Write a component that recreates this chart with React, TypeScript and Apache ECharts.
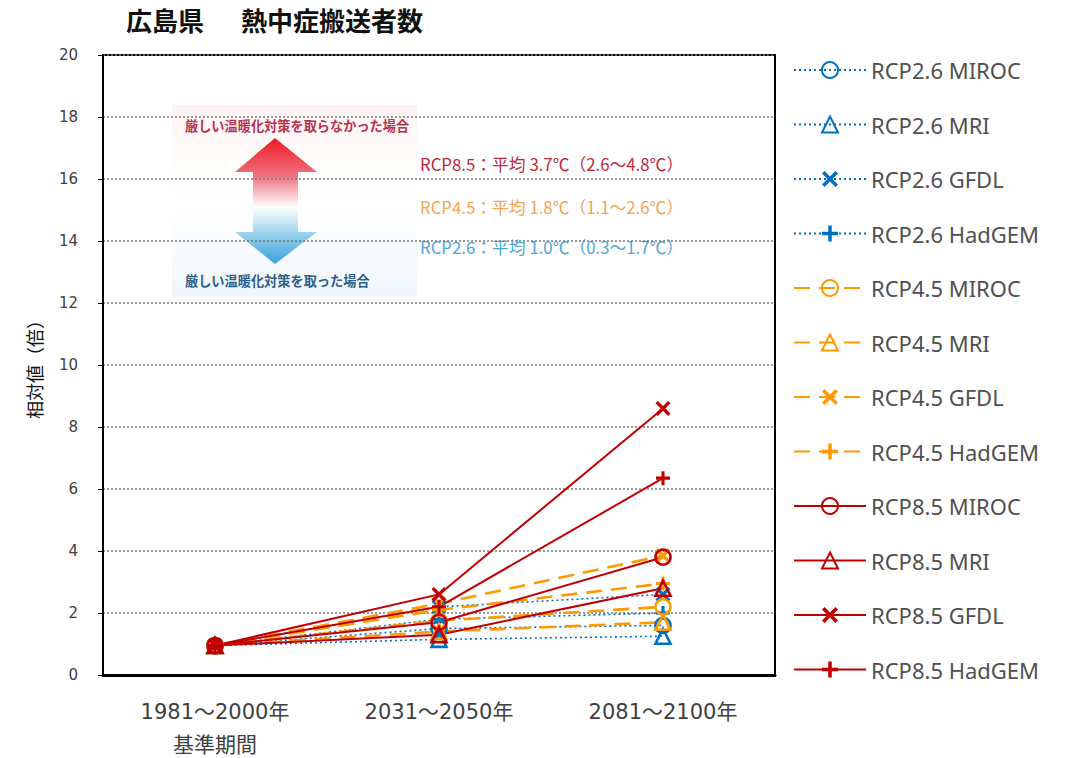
import React, { useEffect, useRef } from "react";
import * as echarts from "echarts";

const categories = ["1981～2000年\n基準期間", "2031～2050年", "2081～2100年"];
const yTicks = [0, 20, 2];

const rcp26Miroc = [0.95, 1.5, 1.6];
const rcp26Mri = [0.95, 1.15, 1.25];
const rcp26Gfdl = [0.95, 2.2, 2.6];
const rcp26Hadgem = [0.95, 1.8, 2.0];
const rcp45Miroc = [0.95, 1.75, 2.2];
const rcp45Mri = [0.95, 1.4, 1.7];
const rcp45Gfdl = [0.95, 2.3, 3.85];
const rcp45Hadgem = [0.95, 2.1, 2.95];
const rcp85Miroc = [0.95, 1.7, 3.8];
const rcp85Mri = [0.95, 1.3, 2.8];
const rcp85Gfdl = [0.95, 2.6, 8.6];
const rcp85Hadgem = [0.95, 2.2, 6.35];

const seriesNames = [
  "RCP2.6 MIROC", "RCP2.6 MRI", "RCP2.6 GFDL", "RCP2.6 HadGEM",
  "RCP4.5 MIROC", "RCP4.5 MRI", "RCP4.5 GFDL", "RCP4.5 HadGEM",
  "RCP8.5 MIROC", "RCP8.5 MRI", "RCP8.5 GFDL", "RCP8.5 HadGEM",
];
const seriesValues = [
  rcp26Miroc, rcp26Mri, rcp26Gfdl, rcp26Hadgem,
  rcp45Miroc, rcp45Mri, rcp45Gfdl, rcp45Hadgem,
  rcp85Miroc, rcp85Mri, rcp85Gfdl, rcp85Hadgem,
];

const insetTitles = ["厳しい温暖化対策を取らなかった場合", "厳しい温暖化対策を取った場合"];
const insetLines = [
  "RCP8.5：平均 3.7℃（2.6～4.8℃）",
  "RCP4.5：平均 1.8℃（1.1～2.6℃）",
  "RCP2.6：平均 1.0℃（0.3～1.7℃）",
];

const X_PATH = "path://M0,1.6 L1.6,0 L5,3.4 L8.4,0 L10,1.6 L6.6,5 L10,8.4 L8.4,10 L5,6.6 L1.6,10 L0,8.4 L3.4,5 Z";
const PLUS_PATH = "path://M3.9,0 H6.1 V3.9 H10 V6.1 H6.1 V10 H3.9 V6.1 H0 V3.9 H3.9 Z";

const groupColors = ["#0070c0", "#ff9900", "#c00000"];

export default function App() {
  const ref = useRef<HTMLDivElement>(null);
  useEffect(() => {
    const chart = echarts.init(ref.current!, null, { renderer: "svg" });
    const series = seriesNames.map((name, i) => {
      const g = Math.floor(i / 4);
      const k = i % 4;
      const color = groupColors[g];
      const lineStyle =
        g === 0
          ? { color, width: 1.6, type: [2, 3] as any }
          : g === 1
          ? { color, width: 2.6, type: [16, 9] as any }
          : { color, width: 2 };
      const hollow = k < 2;
      const symbol = k === 0 ? "circle" : k === 1 ? "triangle" : k === 2 ? X_PATH : PLUS_PATH;
      const symbolSize = k === 0 ? 15 : k === 1 ? 15 : k === 2 ? 15 : 14;
      return {
        type: "line",
        name,
        data: seriesValues[i],
        symbol,
        symbolSize,
        showAllSymbol: true,
        lineStyle,
        itemStyle: hollow
          ? { color: "rgba(0,0,0,0)", borderColor: color, borderWidth: 2.6 }
          : { color, borderWidth: 0 },
        emphasis: { disabled: true },
      };
    });

    const arrowGrad = new echarts.graphic.LinearGradient(0, 0, 0, 1, [
      { offset: 0, color: "#ee1c25" },
      { offset: 0.3, color: "#f07080" },
      { offset: 0.55, color: "#ffffff" },
      { offset: 0.78, color: "#90cdea" },
      { offset: 1, color: "#3aa2dc" },
    ]);
    const bgGrad = new echarts.graphic.LinearGradient(0, 0, 0, 1, [
      { offset: 0, color: "#fdf1f3" },
      { offset: 0.2, color: "#fffafa" },
      { offset: 0.5, color: "#ffffff" },
      { offset: 0.8, color: "#f7fbfd" },
      { offset: 1, color: "#eef6fb" },
    ]);

    chart.setOption({
      animation: false,
      backgroundColor: "#ffffff",
      grid: {
        left: 103, right: 296, top: 55, bottom: 83,
        outerBoundsMode: "none",
        show: true, borderColor: "#000", borderWidth: 2,
      },
      legend: {
        orient: "vertical",
        left: 788,
        top: 53,
        itemWidth: 72,
        itemHeight: 20,
        itemGap: 30.5,
        data: seriesNames,
        selectedMode: false,
        textStyle: { fontFamily: "Noto Sans", fontSize: 22, color: "#505050", lineHeight: 24 },
      },
      xAxis: {
        type: "category",
        data: categories,
        boundaryGap: true,
        axisLine: { lineStyle: { color: "#000", width: 3 } },
        axisTick: { show: false },
        axisLabel: {
          fontFamily: "DejaVu Sans, Noto Sans CJK JP",
          fontSize: 21,
          color: "#404040",
          margin: 20,
          lineHeight: 33,
        },
      },
      yAxis: {
        type: "value",
        min: yTicks[0],
        max: yTicks[1],
        interval: yTicks[2],
        name: "相対値（倍）",
        nameLocation: "middle",
        nameGap: 60,
        nameRotate: 90,
        nameTextStyle: { fontFamily: "Noto Sans CJK JP", fontSize: 18, color: "#111" },
        axisLine: { show: true, lineStyle: { color: "#000", width: 2 } },
        axisTick: { show: true, length: 5, lineStyle: { color: "#000" } },
        axisLabel: { fontFamily: "DejaVu Sans", fontSize: 15, color: "#404040", margin: 25 },
        splitLine: { lineStyle: { color: "#777", width: 1.5, type: [2, 2] } },
      },
      series,
      graphic: [
        {
          type: "text", left: 126, top: 6,
          style: { text: "広島県", fontFamily: "Noto Sans CJK JP", fontSize: 26, fontWeight: "bold", fill: "#111" },
        },
        {
          type: "text", left: 241, top: 6,
          style: { text: "熱中症搬送者数", fontFamily: "Noto Sans CJK JP", fontSize: 26, fontWeight: "bold", fill: "#111", letterSpacing: 1.4 } as any,
        },
        {
          type: "group",
          z: 0,
          children: [
            { type: "rect", shape: { x: 172, y: 105, width: 518, height: 192 }, style: { fill: "#ffffff" }, z: 0 },
            { type: "rect", shape: { x: 172, y: 105, width: 245, height: 192 }, style: { fill: bgGrad }, z: 0 },
            {
              type: "polygon",
              shape: {
                points: [
                  [275, 138], [317, 172], [298, 172], [298, 232], [317, 232],
                  [275, 264], [235, 232], [253, 232], [253, 172], [235, 172],
                ],
              },
              style: { fill: arrowGrad },
            },
            {
              type: "text", x: 185, y: 125,
              style: { text: insetTitles[0], fontFamily: "Noto Sans CJK JP", fontSize: 13.2, fontWeight: "bold", fill: "#b8324e", verticalAlign: "middle" },
            },
            {
              type: "text", x: 185, y: 280,
              style: { text: insetTitles[1], fontFamily: "Noto Sans CJK JP", fontSize: 13.2, fontWeight: "bold", fill: "#2f5f86", verticalAlign: "middle" },
            },
            {
              type: "text", x: 420, y: 164,
              style: { text: insetLines[0], fontFamily: "Noto Sans CJK JP", fontSize: 16.8, fill: "#c0283c", verticalAlign: "middle" },
            },
            {
              type: "text", x: 420, y: 207,
              style: { text: insetLines[1], fontFamily: "Noto Sans CJK JP", fontSize: 16.8, fill: "#f2a552", verticalAlign: "middle" },
            },
            {
              type: "text", x: 420, y: 247,
              style: { text: insetLines[2], fontFamily: "Noto Sans CJK JP", fontSize: 16.8, fill: "#4ea6d6", verticalAlign: "middle" },
            },
          ],
        },
      ],
    });
    return () => chart.dispose();
  }, []);
  return <div ref={ref} style={{ width: 1071, height: 758, position: "absolute", left: 0, top: 0 }} />;
}
